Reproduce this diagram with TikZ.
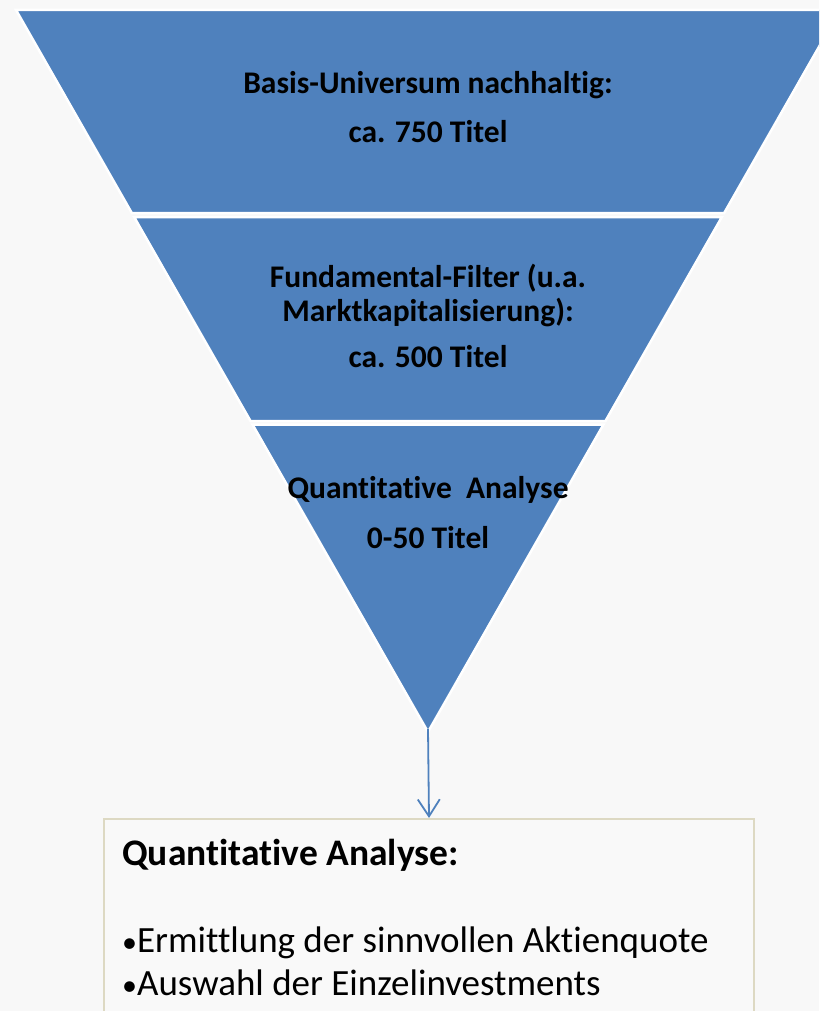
\documentclass[tikz,border=0pt]{standalone}
\usepackage{fontspec}
\setmainfont{Carlito}[Ligatures={NoCommon}]
\usetikzlibrary{arrows.meta}
\definecolor{bg}{HTML}{F8F8F8}
\definecolor{funnel}{HTML}{4F81BD}
\definecolor{boxline}{HTML}{DDD9C3}
\definecolor{boxfill}{HTML}{F9F9F9}
\newcommand{\smallbul}{{\fontsize{30}{36}\selectfont •}}
\begin{document}
\begin{tikzpicture}[x=1pt,y=-1pt,
  stage/.style={fill=funnel,draw=white,line width=2.5pt,line join=miter},
  ftext/.style={font=\fontsize{31.5}{36}\selectfont\bfseries,anchor=base,inner sep=0pt},
  btitle/.style={font=\fontsize{37.5}{44}\selectfont\bfseries,anchor=base west,inner sep=0pt},
  bitem/.style={font=\fontsize{37}{44}\selectfont,anchor=base west,inner sep=0pt},
  infobox/.style={draw=boxline,fill=boxfill,line width=2pt,anchor=north west,minimum width=650pt,minimum height=230pt,inner sep=0pt},
  conn/.style={draw=funnel,line width=1.8pt,-{Straight Barb[length=17pt,width=22pt,line width=1.8pt]}}
]
\useasboundingbox (0,0) rectangle (819,1011);
\clip (0,0) rectangle (819,1011);
\fill[bg] (0,0) rectangle (819,1011);
% funnel stages
\draw[stage] (16,10) -- (840,10) -- (724.2,213) -- (131.8,213) -- cycle;
\draw[stage] (134.1,217) -- (721.9,217) -- (605.5,421) -- (250.5,421) -- cycle;
\draw[stage] (252.5,424.5) -- (603.5,424.5) -- (428,732) -- cycle;
\coordinate (apex) at (428,729);
% funnel texts
\node[ftext] (t1a) at (428,94) {Basis-Universum nachhaltig:};
\node[ftext] (t1b) at (428,143) {ca. 750 Titel};
\node[ftext] (t2a) at (428,287) {Fundamental-Filter (u.a.};
\node[ftext] (t2b) at (428,321) {Marktkapitalisierung):};
\node[ftext] (t2c) at (428,367) {ca. 500 Titel};
\node[ftext] (t3a) at (428,498) {Quantitative\ \ Analyse};
\node[ftext] (t3b) at (428,548) {0-50 Titel};
% info box
\node[infobox] (box) at (103,818) {};
\node[btitle] (bt) at (122,865) {Quantitative Analyse:};
\node[bitem] (b1) at (122,952) {\smallbul Ermittlung der sinnvollen Aktienquote};
\node[bitem] (b2) at (122,995) {\smallbul Auswahl der Einzelinvestments};
% connector
\draw[conn] (apex) -- (box.north);
\end{tikzpicture}
\end{document}
